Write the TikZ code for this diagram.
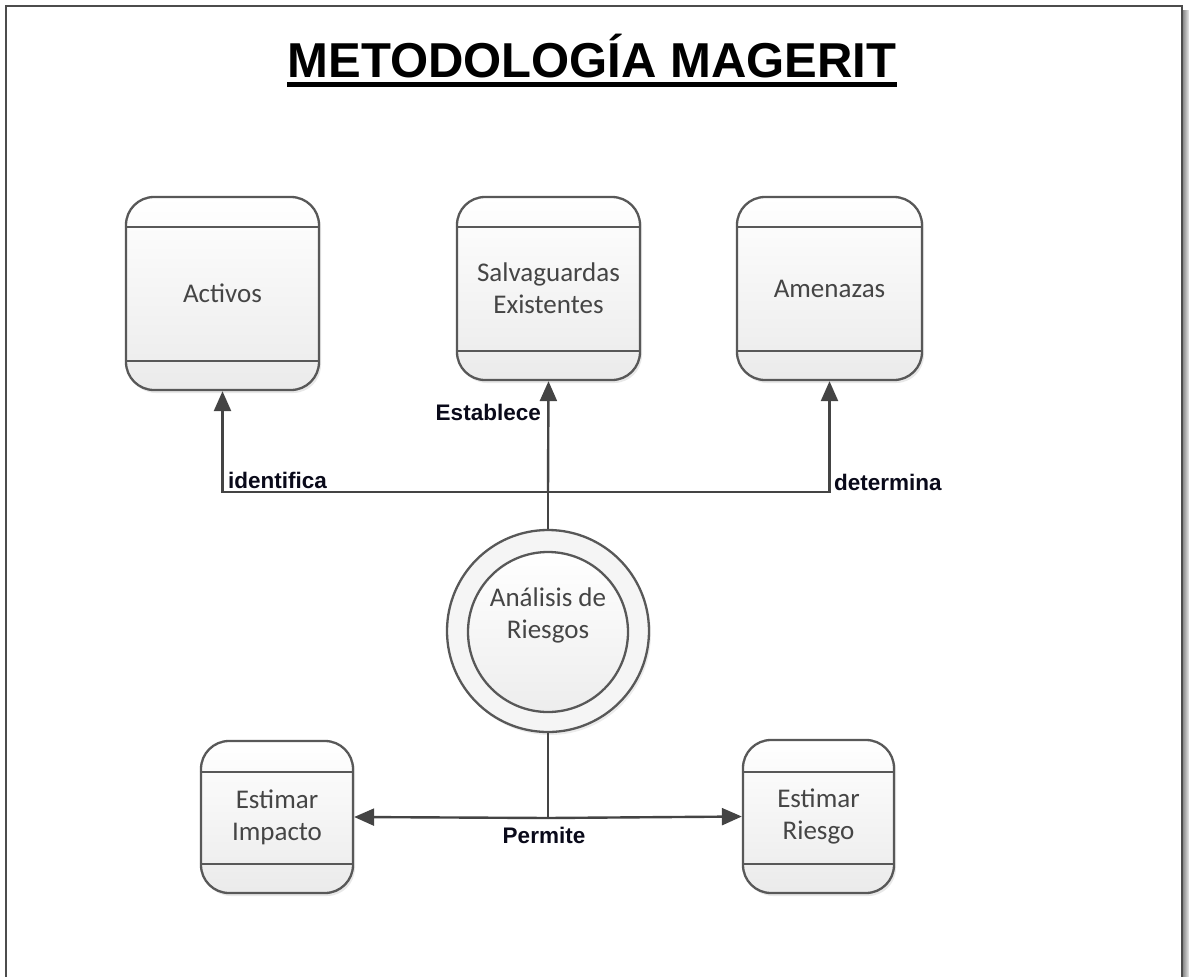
\documentclass[tikz,border=0pt]{standalone}
\usepackage{fontspec}
\setmainfont{Liberation Sans}
\newfontfamily\boxfont{Carlito}
\usetikzlibrary{arrows.meta,calc,shadows}
\definecolor{edge}{HTML}{585858}
\definecolor{arrowc}{HTML}{444444}
\definecolor{txt}{HTML}{454545}
\definecolor{lbl}{HTML}{0A0A1A}
\tikzset{
  procbox/.style={draw=edge, line width=2.3pt, rounded corners=28pt,
    top color=white, bottom color=black!8, inner sep=0pt, align=center,
    font=\boxfont\fontsize{27}{32}\selectfont, text=txt,
    drop shadow={opacity=0.18, shadow xshift=2pt, shadow yshift=-3pt}},
  bandline/.style={draw=edge, line width=2.3pt},
  arr/.style={draw=arrowc, line width=2.4pt, -{Triangle[length=20pt,width=17pt]}},
  plain/.style={draw=arrowc, line width=2.4pt},
  lbltext/.style={font=\fontsize{22.5}{26}\selectfont\bfseries, text=lbl, inner sep=0pt},
  ringc/.style={circle, draw=edge, line width=2.3pt, inner sep=0pt},
}
\newcommand\bands[3]{%
  \draw[bandline] ($(#1.north west)+(0,#2)$) -- ($(#1.north east)+(0,#2)$);
  \draw[bandline] ($(#1.south west)-(0,#3)$) -- ($(#1.south east)-(0,#3)$);}
\begin{document}
\begin{tikzpicture}[x=1pt,y=-1pt]
\useasboundingbox (0,0) rectangle (1189,977);
% frame
\shade[left color=black!45, right color=black!8] (1183,10) rectangle (1189,990);
\draw[black!70, line width=2.2pt] (6,6) rectangle (1182,1000);
% title
\node[font=\fontsize{49}{58}\selectfont\bfseries, inner sep=0pt, anchor=base] (title) at (592,77) {METODOLOGÍA MAGERIT};
\draw[line width=4.5pt] ($(title.base west)+(0,7.5)$) -- ($(title.base east)+(0,7.5)$);
% boxes
\node[procbox, minimum width=193pt, minimum height=193pt] (act) at (222.5,293.5) {Activos};
\bands{act}{31}{30}
\node[procbox, minimum width=183pt, minimum height=183pt] (salv) at (548.5,288.5) {Salvaguardas\\Existentes};
\bands{salv}{31}{30}
\node[procbox, minimum width=185pt, minimum height=183pt] (ame) at (829.5,288.5) {Amenazas};
\bands{ame}{31}{30}
\node[procbox, minimum width=152pt, minimum height=152pt] (imp) at (277,817) {Estimar\\Impacto};
\bands{imp}{32}{30}
\node[procbox, minimum width=151pt, minimum height=153pt] (rie) at (818.5,816.5) {Estimar\\Riesgo};
\bands{rie}{33}{30}
% circle
\node[ringc, minimum size=202pt, fill=black!4,
  drop shadow={opacity=0.15, shadow xshift=2pt, shadow yshift=-3pt}] (ana) at (548,631) {};
\node[ringc, minimum size=160pt, top color=white, bottom color=black!7] (anai) at (548,632) {};
\node[font=\boxfont\fontsize{27}{32}\selectfont, text=txt, align=center, inner sep=0pt] (anat) at (548,615) {Análisis de\\Riesgos};
% connectors
\coordinate (J) at (548,492);
\coordinate (P) at (548,818);
\draw[plain] (ana.north) -- (J);
\draw[arr] (J) -| (act.south);
\draw[arr] (J) -| (ame.south);
\draw[arr] (J) -- (salv.south);
\draw[plain] (ana.south) -- (P);
\draw[arr] (P) -- (imp.east);
\draw[arr] (P) -- (rie.west);
% labels
\node[lbltext, anchor=base west] (lid) at (228,488) {identifica};
\node[lbltext, anchor=base west] (ldet) at (834,490) {determina};
\node[lbltext, anchor=base east] (lest) at (541,420) {Establece};
\node[lbltext, anchor=base] (lper) at (544,843) {Permite};
\end{tikzpicture}
\end{document}
